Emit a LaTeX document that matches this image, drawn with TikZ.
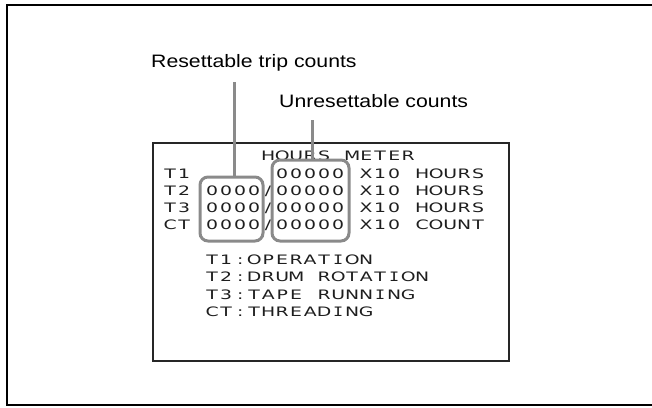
\documentclass[tikz,border=0pt]{standalone}
\usepackage{fontspec}
\setmainfont{Liberation Sans}
\newfontfamily\lcdfont[FakeStretch=1.45]{DejaVu Sans}
\newfontfamily\lcdI[FakeStretch=1.3]{DejaVu Sans Mono}
\newfontfamily\lblfont[FakeStretch=1.18]{Liberation Sans}
\newlength\cw
\setlength\cw{14pt}
\def\mono#1{\monoloop#1\relax}
\def\monoloop#1{\ifx#1\relax\else\makebox[\cw]{\ifx#1I{\lcdI I}\else#1\fi}\expandafter\monoloop\fi}
\definecolor{leadgray}{HTML}{8A8A8A}
\definecolor{lcdtext}{HTML}{1E1E1E}
\tikzset{
  frame/.style={draw=black, line width=2pt},
  screen/.style={draw=black!85, line width=1.4pt},
  lcdrow/.style={anchor=west, inner sep=0pt, text height=9.5pt, text depth=0pt,
    font=\lcdfont\fontsize{13pt}{13pt}\selectfont, text=lcdtext},
  label/.style={anchor=west, inner sep=0pt, font=\lblfont\fontsize{18pt}{18pt}\selectfont},
  groupbox/.style={draw=leadgray, line width=3pt, rounded corners=8pt, inner sep=0pt},
  leader/.style={draw=leadgray, line width=3pt}
}
\begin{document}
\begin{tikzpicture}[x=1pt, y=-1pt]
\useasboundingbox (0,0) rectangle (652,407);
% outer frame (right edge lies outside the picture)
\draw[frame] (652,5) -- (7,5) -- (7,405) -- (652,405);
% screen
\node[screen, minimum width=356pt, minimum height=218pt, inner sep=0pt] (screen) at (331,252) {};
% screen rows
\node[lcdrow] (row0) at (163,156) {\mono{~~~~~~~HOURS~METER}};
\node[lcdrow] (row1) at (163,173.3) {\mono{T1~~~~~~00000~X10~HOURS}};
\node[lcdrow] (row2) at (163,190.6) {\mono{T2~0000/00000~X10~HOURS}};
\node[lcdrow] (row3) at (163,207.9) {\mono{T3~0000/00000~X10~HOURS}};
\node[lcdrow] (row4) at (163,225.2) {\mono{CT~0000/00000~X10~COUNT}};
\node[lcdrow] (row6) at (163,259.8) {\mono{~~~T1:OPERATION}};
\node[lcdrow] (row7) at (163,277.1) {\mono{~~~T2:DRUM~ROTATION}};
\node[lcdrow] (row8) at (163,294.4) {\mono{~~~T3:TAPE~RUNNING}};
\node[lcdrow] (row9) at (163,311.7) {\mono{~~~CT:THREADING}};
% group boxes
\node[groupbox, minimum width=63pt, minimum height=64pt] (boxR) at (231.5,209) {};
\node[groupbox, minimum width=77pt, minimum height=81pt] (boxU) at (310.5,200.5) {};
% labels
\node[label] (lblR) at (151,63) {Resettable trip counts};
\node[label] (lblU) at (279,101) {Unresettable counts};
% leaders
\coordinate (tipR) at (234,82);
\coordinate (tipU) at (312,120);
\draw[leader] (boxR.north -| tipR) -- (tipR);
\draw[leader] (boxU.north -| tipU) -- (tipU);
\end{tikzpicture}
\end{document}
